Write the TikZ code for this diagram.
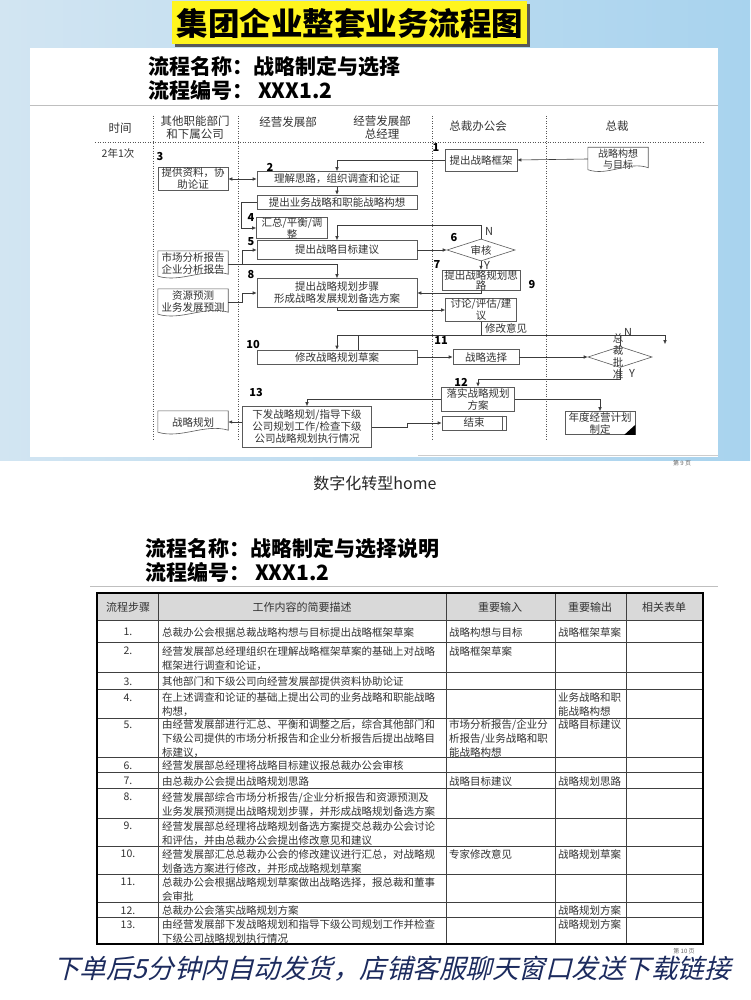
\documentclass[tikz,border=0pt]{standalone}
\usepackage{fontspec}
\setmainfont{Noto Sans CJK SC}
\newfontfamily\slantcjk[FakeSlant=0.25]{Noto Sans CJK SC}
\usetikzlibrary{shapes.geometric,arrows.meta,calc}
\definecolor{linec}{HTML}{3C3C3C}
\definecolor{boxc}{HTML}{5A5A5A}
\definecolor{txtc}{HTML}{333333}
\definecolor{bgblue}{HTML}{A8D3EE}
\definecolor{bgleft}{HTML}{D2E5F2}
\definecolor{navyc}{HTML}{1C2B5E}
\definecolor{hdrfill}{HTML}{D9D9D9}
\definecolor{titley}{HTML}{FFF51E}
\definecolor{lanec}{HTML}{555555}
\newcommand\fsz[2]{\fontsize{#1}{#2}\selectfont}
\newcommand\docline[2]{%
  \draw[boxline] ([yshift=1pt]#1.south west) -- (#1.north west) -- (#1.north east) -- ([yshift=3pt]#1.south east)
   .. controls +(-#2/3,-7) and +(#2/3,7) .. ([yshift=1pt]#1.south west) -- cycle;}
\tikzset{
  boxline/.style={draw=boxc, line width=0.6pt},
  fbox/.style={boxline, fill=white, rectangle, inner sep=0pt, align=center, text=txtc, font=\fsz{10.5}{12}},
  docbox/.style={rectangle, inner sep=0pt, align=center, text=txtc, font=\fsz{10.5}{12}},
  ddia/.style={boxline, fill=white, diamond, aspect=3, inner sep=0pt, text=txtc, font=\fsz{10.5}{12}},
  numl/.style={font=\bfseries\fsz{11}{12}, text=black, inner sep=0pt},
  yn/.style={font=\fsz{11}{12}, text=txtc, inner sep=0pt},
  conn/.style={draw=linec, line width=0.6pt},
  arr/.style={conn, -{Latex[length=4pt,width=3.5pt]}},
  darr/.style={conn, {Latex[length=4pt,width=3.5pt]}-{Latex[length=4pt,width=3.5pt]}},
  lane/.style={draw=lanec, line width=0.6pt, dash pattern=on 1pt off 1.5pt},
  lanehd/.style={font=\fsz{11.5}{13}, text=txtc, align=center, inner sep=0pt},
  hdtitle/.style={font=\bfseries\fsz{21}{24}, text=black, anchor=west, inner sep=0pt},
  tcell/.style={font=\fsz{10.5}{14}, text=txtc, align=left, anchor=north west, inner sep=0pt, yshift=-1.5pt},
  tnum/.style={font=\fsz{10.5}{14}, text=txtc, inner sep=0pt, yshift=-1pt},
  thead/.style={font=\fsz{11}{13}, text=txtc, inner sep=0pt},
  tline/.style={draw=black!75, line width=0.6pt},
  pageno/.style={font=\fsz{6}{7}, text=black!60, inner sep=0pt},
}
\begin{document}
\begin{tikzpicture}[x=1pt,y=-1pt]
\useasboundingbox (0,0) rectangle (750,1000);
\fill[white] (0,0) rectangle (750,1000);
% slide background
\shade[left color=bgleft, middle color=white, right color=bgblue] (0,0) rectangle (750,460);
\fill[white] (30,48) rectangle (718,457);
\draw[black!20, line width=0.8pt] (418,455) -- (718,455);
% title banner
\fill[black!65] (175,4) rectangle (530,47);
\fill[titley] (172,1) rectangle (527,44);
\node[font=\bfseries\fsz{31.5}{34}, text=black, inner sep=0pt] (title) at (350,23) {集团企业整套业务流程图};
% header 1
\node[hdtitle] (h1a) at (148,67) {流程名称：战略制定与选择};
\node[hdtitle] (h1b) at (148,90) {流程编号：\ XXX1.2};
\draw[black!25, line width=0.8pt] (30,105) -- (718,105);
% swimlanes
\draw[lane] (153,116) -- (153,440);
\draw[lane] (238,116) -- (238,440);
\draw[lane] (432,116) -- (432,440);
\draw[lane] (546,116) -- (546,440);
\draw[lane] (95,142) -- (703,142);
\node[lanehd] (lh0) at (120,128) {时间};
\node[lanehd] (lh1) at (195,128) {其他职能部门\\和下属公司};
\node[lanehd] (lh2) at (288,122) {经营发展部};
\node[lanehd] (lh3) at (382,128) {经营发展部\\总经理};
\node[lanehd] (lh4) at (478,126) {总裁办公会};
\node[lanehd] (lh5) at (617,126) {总裁};
\node[font=\fsz{10.5}{12}, text=txtc, inner sep=0pt] (freq) at (118,154) {2年1次};
% nodes
\node[fbox, minimum width=72pt, minimum height=22pt] (n1) at (481,160) {提出战略框架};
\node[docbox, minimum width=60pt, minimum height=23pt, font=\fsz{10}{11}] (doc1) at (618,159) {战略构想\\与目标};
\docline{doc1}{60}
\node[fbox, minimum width=160pt, minimum height=15pt] (n2) at (337,179) {理解思路，组织调查和论证};
\node[fbox, minimum width=70pt, minimum height=23pt] (n3) at (193,179) {提供资料，协\\助论证};
\node[fbox, minimum width=160pt, minimum height=14pt] (n2b) at (337,202) {提出业务战略和职能战略构想};
\node[fbox, minimum width=71pt, minimum height=20pt] (n4) at (292,228) {汇总/平衡/调\\整};
\node[fbox, minimum width=160pt, minimum height=19pt] (n5) at (337,250) {提出战略目标建议};
\node[ddia, minimum width=68pt, minimum height=22pt] (d6) at (481,250) {审核};
\node[fbox, minimum width=78pt, minimum height=18pt, font=\fsz{10.5}{10}] (n7) at (481,280) {提出战略规划思\\路};
\node[fbox, minimum width=160pt, minimum height=29pt] (n8) at (337,293) {提出战略规划步骤\\形成战略发展规划备选方案};
\node[docbox, minimum width=70pt, minimum height=26pt] (dm) at (193,264) {市场分析报告\\企业分析报告};
\docline{dm}{70}
\node[docbox, minimum width=70pt, minimum height=26pt] (dr) at (193,302) {资源预测\\业务发展预测};
\docline{dr}{70}
\node[fbox, minimum width=71pt, minimum height=23pt] (n9) at (481,310) {讨论/评估/建\\议};
\node[fbox, minimum width=160pt, minimum height=14pt] (n10) at (337,357) {修改战略规划草案};
\node[fbox, minimum width=66pt, minimum height=15pt] (n11) at (486,357) {战略选择};
\node[ddia, minimum width=64pt, minimum height=21pt] (d12) at (620,357) {};
\node[font=\fsz{10.5}{12}, text=txtc, align=center, inner sep=0pt] (d12t) at (618,357) {总\\裁\\批\\准};
\node[fbox, minimum width=73pt, minimum height=24pt] (n12) at (478,399) {落实战略规划\\方案};
\node[fbox, minimum width=70pt, minimum height=23pt] (nA) at (600,423) {年度经营计划\\制定};
\fill[black] (nA.south east) -- ++(-11,0) -- ++(11,-10) -- cycle;
\node[fbox, minimum width=129pt, minimum height=41pt] (n13) at (307,427) {下发战略规划/指导下级\\公司规划工作/检查下级\\公司战略规划执行情况};
\node[docbox, minimum width=70pt, minimum height=22pt] (dp) at (193,422) {战略规划};
\docline{dp}{70}
\node[fbox, minimum width=64pt, minimum height=14pt] (nEnd) at (474,423) {结束};
\draw[boxline] ([xshift=-4pt]nEnd.north east) -- ([xshift=-4pt]nEnd.south east);
% step numbers
\node[numl] (s1) at (436,148) {1};
\node[numl] (s2) at (270,167) {2};
\node[numl] (s3) at (160,157) {3};
\node[numl] (s4) at (251,218) {4};
\node[numl] (s5) at (251,242) {5};
\node[numl] (s6) at (454,238) {6};
\node[numl] (s7) at (437,265) {7};
\node[numl] (s8) at (251,275) {8};
\node[numl] (s9) at (532,285) {9};
\node[numl] (s10) at (253,345) {10};
\node[numl] (s11) at (441,341) {11};
\node[numl] (s12) at (461,382) {12};
\node[numl] (s13) at (256,393) {13};
% connectors
\draw[arr] (doc1.west) -- (n1.east);
\draw[arr] (n1.west) -| (n2.north);
\draw[darr] (n3.east) -- (n2.west);
\draw[arr] (n2.south) -- (n2b.north);
\draw[arr] (n2b.west) -- ++(-15,0) |- (n4.west);
\draw[arr] (d6.north) -- ++(0,-13) -| (n5.north);
\node[yn] (d6n) at (489,231) {N};
\draw[arr] (n5.east) -- (d6.west);
\draw[arr] (d6.south) -- (n7.north);
\node[yn] (d6y) at (487,265) {Y};
\draw[arr] (dm.east) -| (n8.north);
\draw[arr] (dm.east) ++(14,0) |- (n5.west);
\draw[arr] (dr.east) -- ++(14,0) |- (n8.west);
\draw[arr] (n7.south) |- (n8.east);
\draw[arr] (n8.south) |- (n9.west);
\draw[conn] (n9.south) -- ++(0,14.5);
\node[font=\fsz{10.5}{12}, text=txtc, anchor=west, inner sep=0pt] (xgyj) at (485,328) {修改意见};
\draw[arr] (d12.north) -- ++(0,-11) -| (n10.north);
\draw[arr] (d12.north) ++(0,-11) -- ++(45,0) -- ++(0,9);
\draw[conn] ([xshift=21pt]n10.north) -- ++(0,-14);
\node[yn] (d12n) at (628,332) {N};
\draw[arr] (n10.east) -- (n11.west);
\draw[arr] (n11.east) -- (d12.west);
\draw[arr] (d12.south) -- ++(0,11) -| (n12.north);
\node[yn] (d12y) at (632,373) {Y};
\draw[arr] (n12.east) -| (nA.north);
\draw[arr] (n12.west) -| (n13.north);
\draw[arr] (n13.west |- dp.east) -- (dp.east);
\draw[arr] (n13.east) -- ++(35,0) |- (nEnd.west);
\node[pageno] (pg9) at (682,463) {第 9 页};
% caption
\node[font=\fsz{16}{18}, text=black!85, inner sep=0pt] (cap) at (375,483) {数字化转型home};
% header 2
\node[hdtitle] (h2a) at (145,549) {流程名称：战略制定与选择说明};
\node[hdtitle] (h2b) at (145,572) {流程编号：\ XXX1.2};
\draw[black!25, line width=0.8pt] (90,586) -- (718,586);
% table
\fill[hdrfill] (97,593) rectangle (703,620);
\foreach \yy in {620,642,672,689,718,757,772,788,818,846,874,902,917}
  \draw[tline] (97,\yy) -- (703,\yy);
\foreach \xx in {158,446,555,626}
  \draw[tline] (\xx,593) -- (\xx,944);
\draw[black, line width=1.3pt] (97,593) rectangle (703,944);
\node[thead] (th1) at (128,607) {流程步骤};
\node[thead] (th2) at (302,607) {工作内容的简要描述};
\node[thead] (th3) at (500,607) {重要输入};
\node[thead] (th4) at (590,607) {重要输出};
\node[thead] (th5) at (664,607) {相关表单};
% rows
\node[tnum] (r1n) at (128,631) {1.};
\node[tcell] (r1a) at (162,625.5) {总裁办公会根据总裁战略构想与目标提出战略框架草案};
\node[tcell] (r1b) at (449,625.5) {战略构想与目标};
\node[tcell] (r1c) at (558,625.5) {战略框架草案};
\node[tnum] (r2n) at (128,650) {2.};
\node[tcell] (r2a) at (162,644.5) {经营发展部总经理组织在理解战略框架草案的基础上对战略\\框架进行调查和论证，};
\node[tcell] (r2b) at (449,644.5) {战略框架草案};
\node[tnum] (r3n) at (128,680.5) {3.};
\node[tcell] (r3a) at (162,675) {其他部门和下级公司向经营发展部提供资料协助论证};
\node[tnum] (r4n) at (128,696.5) {4.};
\node[tcell] (r4a) at (162,691) {在上述调查和论证的基础上提出公司的业务战略和职能战略\\构想，};
\node[tcell] (r4c) at (558,691) {业务战略和职\\能战略构想};
\node[tnum] (r5n) at (128,723.5) {5.};
\node[tcell] (r5a) at (162,718) {由经营发展部进行汇总、平衡和调整之后，综合其他部门和\\下级公司提供的市场分析报告和企业分析报告后提出战略目\\标建议，};
\node[tcell] (r5b) at (449,718) {市场分析报告/企业分\\析报告/业务战略和职\\能战略构想};
\node[tcell] (r5c) at (558,718) {战略目标建议};
\node[tnum] (r6n) at (128,764.5) {6.};
\node[tcell] (r6a) at (162,759) {经营发展部总经理将战略目标建议报总裁办公会审核};
\node[tnum] (r7n) at (128,780) {7.};
\node[tcell] (r7a) at (162,774.5) {由总裁办公会提出战略规划思路};
\node[tcell] (r7b) at (449,774.5) {战略目标建议};
\node[tcell] (r7c) at (558,774.5) {战略规划思路};
\node[tnum] (r8n) at (128,796) {8.};
\node[tcell] (r8a) at (162,790.5) {经营发展部综合市场分析报告/企业分析报告和资源预测及\\业务发展预测提出战略规划步骤，并形成战略规划备选方案};
\node[tnum] (r9n) at (128,825) {9.};
\node[tcell] (r9a) at (162,819.5) {经营发展部总经理将战略规划备选方案提交总裁办公会讨论\\和评估，并由总裁办公会提出修改意见和建议};
\node[tnum] (r10n) at (128,853) {10.};
\node[tcell] (r10a) at (162,847.5) {经营发展部汇总总裁办公会的修改建议进行汇总，对战略规\\划备选方案进行修改，并形成战略规划草案};
\node[tcell] (r10b) at (449,847.5) {专家修改意见};
\node[tcell] (r10c) at (558,847.5) {战略规划草案};
\node[tnum] (r11n) at (128,881) {11.};
\node[tcell] (r11a) at (162,875.5) {总裁办公会根据战略规划草案做出战略选择，报总裁和董事\\会审批};
\node[tnum] (r12n) at (128,909.5) {12.};
\node[tcell] (r12a) at (162,904) {总裁办公会落实战略规划方案};
\node[tcell] (r12c) at (558,904) {战略规划方案};
\node[tnum] (r13n) at (128,923.5) {13.};
\node[tcell] (r13a) at (162,918) {由经营发展部下发战略规划和指导下级公司规划工作并检查\\下级公司战略规划执行情况};
\node[tcell] (r13c) at (558,918) {战略规划方案};
\node[pageno] (pg10) at (684,951) {第 10 页};
% bottom slogan
\node[font=\slantcjk\fsz{26.5}{28}, text=navyc, inner sep=0pt] (slogan) at (392,969) {下单后5分钟内自动发货，店铺客服聊天窗口发送下载链接};
\end{tikzpicture}
\end{document}
